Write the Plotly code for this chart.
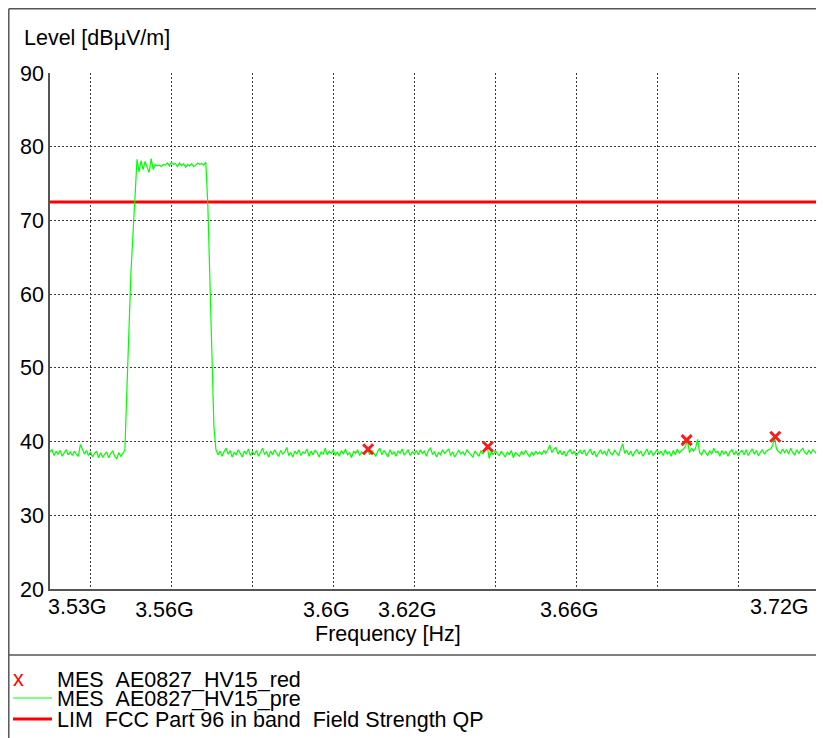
import numpy as np
import plotly.graph_objects as go

# ---------------- data ----------------
STEP_GHZ = 0.0005  # sweep step of the preview scan (0.5 MHz)

# preview scan, below the carrier (starts 3.530 GHz)
low_start_ghz = 3.530
low_level = [38.6, 38.9, 38.1, 38.7, 38.3, 38.8, 38.0, 38.5, 38.9, 38.2,
             38.6, 38.1, 38.7, 38.3, 38.0, 39.6, 39.0, 38.3, 38.8, 38.1,
             38.6, 37.9, 38.4, 38.7, 37.8, 38.5, 37.9, 38.3, 38.6, 37.8,
             38.4, 38.7, 38.0, 37.7, 38.5, 38.0, 38.4]

# preview scan across the carrier (starts 3.5485 GHz)
band_start_ghz = 3.5485
band_level = [38.8, 47.0, 56.0, 63.0, 68.0, 73.0,
              78.3, 76.6, 78.1, 76.9, 78.0, 77.2, 76.5, 78.4, 76.9, 77.6,
              77.4, 77.5, 77.3, 77.6, 77.5, 77.8, 77.4, 77.9, 77.6, 77.7,
              77.3, 77.8, 77.4, 77.7, 77.2, 77.6, 77.4, 77.7, 77.3, 77.5,
              77.8, 77.6, 77.7, 77.5, 77.9,
              72.0, 62.0, 51.0, 42.0]

# preview scan, above the carrier (starts 3.571 GHz)
high_start_ghz = 3.571
high_level = [
    38.9, 38.2, 38.7, 38.0, 38.6, 39.1, 38.3, 38.8, 37.9, 38.5, 38.2, 38.9, 38.4, 37.9, 38.7, 38.3, 39.0, 38.1, 38.6, 38.2,
    38.8, 38.0, 38.5, 39.1, 38.3, 38.6, 37.9, 38.7, 38.2, 38.9, 38.4, 38.0, 38.8, 38.3, 38.6, 39.2, 38.1, 38.5, 37.9, 38.7,
    38.3, 38.9, 38.1, 38.6, 38.4, 39.0, 38.0, 38.7, 38.2, 38.8, 38.5, 37.9, 38.6, 38.3, 39.1, 38.2, 38.7, 38.4, 38.9, 38.1,
    38.6, 38.0, 38.8, 38.3, 39.0, 38.2, 38.5, 37.8, 38.7, 38.4, 38.9, 38.1, 38.6, 38.3, 38.7, 38.9, 38.2, 38.8, 38.4, 38.0,
    38.7, 39.1, 38.2, 38.8, 38.4, 37.9, 38.9, 38.3, 38.6, 38.0, 38.7, 38.4, 39.0, 38.2, 38.5, 38.9, 38.1, 38.6, 38.3, 38.8,
    38.2, 38.9, 38.4, 38.7, 38.0, 38.8, 39.1, 38.3, 38.6, 37.9, 38.5, 38.2, 38.9, 38.4, 38.7, 39.0, 38.1, 38.6, 37.9, 38.4,
    38.8, 38.3, 38.6, 38.1, 38.9, 38.5, 38.2, 37.9, 38.7, 38.4, 38.0, 38.8, 38.3, 39.0, 39.5, 37.7, 38.6, 38.2, 38.8, 38.4,
    38.1, 38.7, 38.3, 37.9, 38.6, 38.2, 38.8, 37.8, 38.5, 38.3, 38.0, 38.7, 38.2, 38.8, 38.4, 37.9, 38.6, 38.1, 38.7, 38.3,
    38.6, 38.2, 38.8, 38.4, 38.9, 39.5, 38.5, 39.0, 39.2, 38.3, 38.8, 38.2, 38.7, 38.0, 38.6, 38.9, 38.3, 38.7, 38.1, 38.5,
    38.8, 38.3, 38.9, 38.1, 38.6, 39.0, 38.2, 38.7, 37.9, 38.5, 38.9, 38.3, 38.7, 38.1, 39.0, 38.4, 38.2, 38.8, 38.5, 38.1,
    39.0, 39.7, 38.4, 38.8, 38.2, 38.7, 38.0, 38.6, 38.9, 38.3, 38.7, 38.0, 38.5, 39.0, 38.2, 38.8, 38.1, 38.6, 38.9, 38.3,
    38.7, 38.1, 38.9, 38.3, 38.6, 38.0, 38.8, 38.2, 39.0, 38.4, 38.8, 39.0, 39.3, 40.2, 38.5, 39.1, 38.7, 39.1, 40.3, 38.5,
    38.2, 38.9, 38.4, 38.1, 38.8, 38.3, 39.1, 38.5, 38.7, 38.0, 38.8, 38.3, 38.7, 38.0, 38.6, 38.9, 38.2, 38.7, 38.1, 38.6,
    38.8, 38.2, 38.9, 38.1, 38.6, 39.0, 38.3, 38.8, 38.1, 38.6, 38.9, 38.3, 38.7, 38.9, 39.0, 39.4, 40.6, 39.0, 38.6, 38.4,
    39.0, 38.5, 38.9, 38.3, 39.1, 38.5, 38.2, 38.9, 38.4, 38.8, 39.1, 38.5, 38.3, 38.8, 38.4, 38.9, 38.6, 38.3, 38.8]

# final (QP) measurement points
mes_freq_ghz = [3.6086, 3.6382, 3.6873, 3.7092]
mes_level = [38.95, 39.3, 40.2, 40.65]

# limit line
lim_freq_ghz = [3.530, 3.720]
lim_level = [72.5, 72.5]

# axis
x_range_ghz = [3.530, 3.720]
grid_ghz = [3.54, 3.56, 3.58, 3.60, 3.62, 3.64, 3.66, 3.68, 3.70, 3.72]
tick_ghz = [3.56, 3.60, 3.62, 3.66]
tick_text = ["3.56G", "3.6G", "3.62G", "3.66G"]
edge_tick_ghz = [3.53, 3.72]
edge_tick_text = ["3.53G", "3.72G"]
y_ticks = [20, 30, 40, 50, 60, 70, 80, 90]

legend_names = ["MES\u00a0\u00a0AE0827_HV15_red",
                "MES\u00a0\u00a0AE0827_HV15_pre",
                "LIM\u00a0\u00a0FCC Part 96 in band\u00a0\u00a0Field Strength QP"]

# ---------------- build ----------------
def seg_freq(start, n):
    return (start + STEP_GHZ * np.arange(n)) * 1e9

pre_f = np.concatenate([seg_freq(low_start_ghz, len(low_level)),
                        seg_freq(band_start_ghz, len(band_level)),
                        seg_freq(high_start_ghz, len(high_level))])
pre_l = low_level + band_level + high_level

FONT = "Arial, 'Liberation Sans', sans-serif"
FS = 21.5
GRID = "#3a3a3a"
AX = "#555555"

fig = go.Figure()
fig.add_trace(go.Scatter(x=[f * 1e9 for f in lim_freq_ghz], y=lim_level, mode="lines",
                         line=dict(color="#ff0000", width=3), name=legend_names[2],
                         showlegend=False))
fig.add_trace(go.Scatter(x=pre_f, y=pre_l, mode="lines",
                         line=dict(color="#00ff00", width=1.2), name=legend_names[1],
                         showlegend=False))
fig.add_trace(go.Scatter(x=[f * 1e9 for f in mes_freq_ghz], y=mes_level, mode="markers",
                         marker=dict(symbol="x-thin-open", size=10, color="#ff1a1a",
                                     line=dict(width=3, color="#ff1a1a")),
                         name=legend_names[0], showlegend=False))

OFF = 8  # page body margin
W, H = 824 - OFF, 738 - OFF
L, R, T, B = 42, 5, 65, 149
pw, ph = W - L - R, H - T - B

def px(xp):  # page pixel -> paper
    return (xp - OFF - L) / pw

def py(yp):
    return (H - B - (yp - OFF)) / ph

fig.update_layout(
    width=W, height=H,
    margin=dict(l=L, r=R, t=T, b=B, pad=0),
    paper_bgcolor="white", plot_bgcolor="white",
    font=dict(family=FONT, size=FS, color="black"),
    showlegend=False,
)
fig.update_xaxes(
    range=[x_range_ghz[0] * 1e9, x_range_ghz[1] * 1e9],
    tickmode="array", tickvals=[t * 1e9 for t in tick_ghz], ticktext=tick_text,
    ticks="", showgrid=False, zeroline=False,
    showline=True, linecolor=AX, linewidth=1.5,
    tickfont=dict(size=FS, color="black"),
    ticklabelshift=-7, ticklabelstandoff=0,
    minor=dict(tickmode="array", tickvals=[g * 1e9 for g in grid_ghz], showgrid=True,
               gridcolor=GRID, gridwidth=1, griddash="2px,2px", ticks=""),
)
fig.update_yaxes(
    range=[20, 90], tickmode="array", tickvals=y_ticks,
    ticks="", showgrid=True, gridcolor=GRID, gridwidth=1, griddash="2px,2px",
    zeroline=False, showline=True, linecolor=AX, linewidth=1.5,
    tickfont=dict(size=FS, color="black"), ticklabelstandoff=0,
)

ann = []
# edge tick labels
ann.append(dict(x=edge_tick_ghz[0] * 1e9, xref="x", y=py(607), yref="paper",
                text=edge_tick_text[0], showarrow=False, xanchor="left", yanchor="middle",
                xshift=-4, font=dict(size=FS)))
ann.append(dict(x=edge_tick_ghz[1] * 1e9, xref="x", y=py(607), yref="paper",
                text=edge_tick_text[1], showarrow=False, xanchor="right", yanchor="middle",
                xshift=-8, font=dict(size=FS)))
# axis titles
ann.append(dict(x=px(22), y=py(38), xref="paper", yref="paper", text="Level [dBµV/m]",
                showarrow=False, xanchor="left", yanchor="middle", font=dict(size=FS)))
ann.append(dict(x=px(388), y=py(634), xref="paper", yref="paper", text="Frequency [Hz]",
                showarrow=False, xanchor="center", yanchor="middle", font=dict(size=FS)))
# legend
ann.append(dict(x=px(18), y=py(679), xref="paper", yref="paper", text="x",
                showarrow=False, xanchor="center", yanchor="middle",
                font=dict(size=FS, color="#ff0000")))
for name, yy in zip(legend_names, [680, 699, 720]):
    ann.append(dict(x=px(55), y=py(yy), xref="paper", yref="paper", text=name,
                    showarrow=False, xanchor="left", yanchor="middle", font=dict(size=FS)))
fig.update_layout(annotations=ann)

shapes = [
    # legend line samples
    dict(type="line", xref="paper", yref="paper", x0=px(13), x1=px(52), y0=py(698), y1=py(698),
         line=dict(color="#00ff00", width=1)),
    dict(type="line", xref="paper", yref="paper", x0=px(13), x1=px(52), y0=py(719), y1=py(719),
         line=dict(color="#ff0000", width=3)),
    # outer frame and separator
    dict(type="line", xref="paper", yref="paper", x0=px(8.8), x1=px(8.8), y0=py(8.8), y1=py(760),
         line=dict(color=AX, width=1.5)),
    dict(type="line", xref="paper", yref="paper", x0=px(8.8), x1=px(840), y0=py(8.8), y1=py(8.8),
         line=dict(color=AX, width=1.5)),
    dict(type="line", xref="paper", yref="paper", x0=px(8.8), x1=px(840), y0=py(655), y1=py(655),
         line=dict(color=AX, width=1.5)),
]
fig.update_layout(shapes=shapes)

fig.write_html("out.html")
